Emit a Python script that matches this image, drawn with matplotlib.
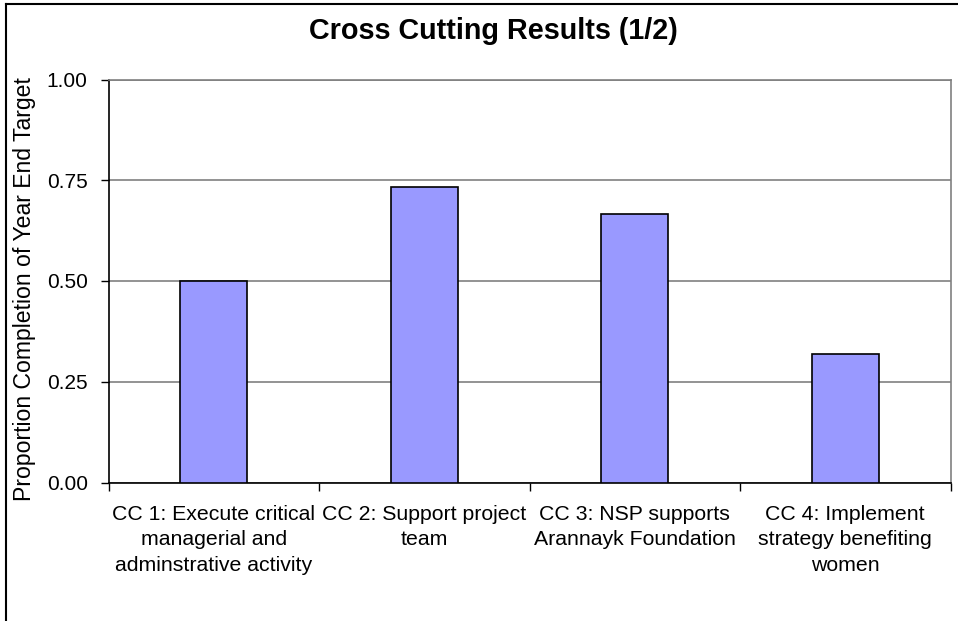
import matplotlib
matplotlib.use("Agg")
import matplotlib.pyplot as plt
from matplotlib.lines import Line2D

categories = [
    "CC 1: Execute critical\nmanagerial and\nadminstrative activity",
    "CC 2: Support project\nteam",
    "CC 3: NSP supports\nArannayk Foundation",
    "CC 4: Implement\nstrategy benefiting\nwomen",
]
values = [0.50, 0.733, 0.667, 0.32]
yticks = [0.00, 0.25, 0.50, 0.75, 1.00]
ytick_labels = ["0.00", "0.25", "0.50", "0.75", "1.00"]

plt.rcParams['font.family'] = ['Liberation Sans', 'DejaVu Sans']

W, H = 958, 621
fig = plt.figure(figsize=(W / 100, H / 100), dpi=100)
left, right, top, bottom = 108.5, 950.5, 79.5, 482.5
ax = fig.add_axes([left / W, 1 - bottom / H, (right - left) / W, (bottom - top) / H])

x = list(range(len(categories)))
ax.bar(x, values, width=0.32, color="#9999FF", edgecolor="black", linewidth=1.2, zorder=3)

ax.set_xlim(-0.5, len(categories) - 0.5)
ax.set_ylim(0, 1.0)
ax.set_yticks(yticks)
ax.set_yticklabels(ytick_labels, fontsize=15)
ax.yaxis.grid(True, color="#808080", linewidth=1.2, zorder=0)
ax.set_axisbelow(True)

# category ticks at boundaries, labels centred
ax.set_xticks([i - 0.5 for i in range(len(categories) + 1)])
ax.set_xticklabels([])
ax.set_xticks(x, minor=True)
ax.set_xticklabels(categories, minor=True, fontsize=15.3, linespacing=1.43)
ax.tick_params(axis='x', which='minor', length=0, pad=16)
ax.tick_params(axis='x', which='major', length=6, width=1, direction='out')
ax.tick_params(axis='y', length=6, width=1, direction='out', pad=9)

for s in ['top', 'right']:
    ax.spines[s].set_color('#808080')
    ax.spines[s].set_linewidth(1.2)
ax.spines['left'].set_color('black')
ax.spines['bottom'].set_color('black')
ax.spines['left'].set_linewidth(1.2)
ax.spines['bottom'].set_linewidth(1.2)

ax.set_ylabel("Proportion Completion of Year End Target", fontsize=16.6)
ax.yaxis.set_label_coords((36 - left) / (right - left), 0.5 - ((289 - (top + bottom) / 2) / (bottom - top)))

fig.text(493 / W, 1 - 31 / H, "Cross Cutting Results (1/2)", ha='center', va='center',
         fontsize=20.7, fontweight='bold')

# outer chart border (left and top edges visible)
fig.add_artist(Line2D([6 / W, 6 / W], [0, 1 - 4 / H], transform=fig.transFigure, color='black', linewidth=1.5))
fig.add_artist(Line2D([6 / W, 1], [1 - 4 / H, 1 - 4 / H], transform=fig.transFigure, color='black', linewidth=1.5))

fig.savefig("out.png", dpi=100)
